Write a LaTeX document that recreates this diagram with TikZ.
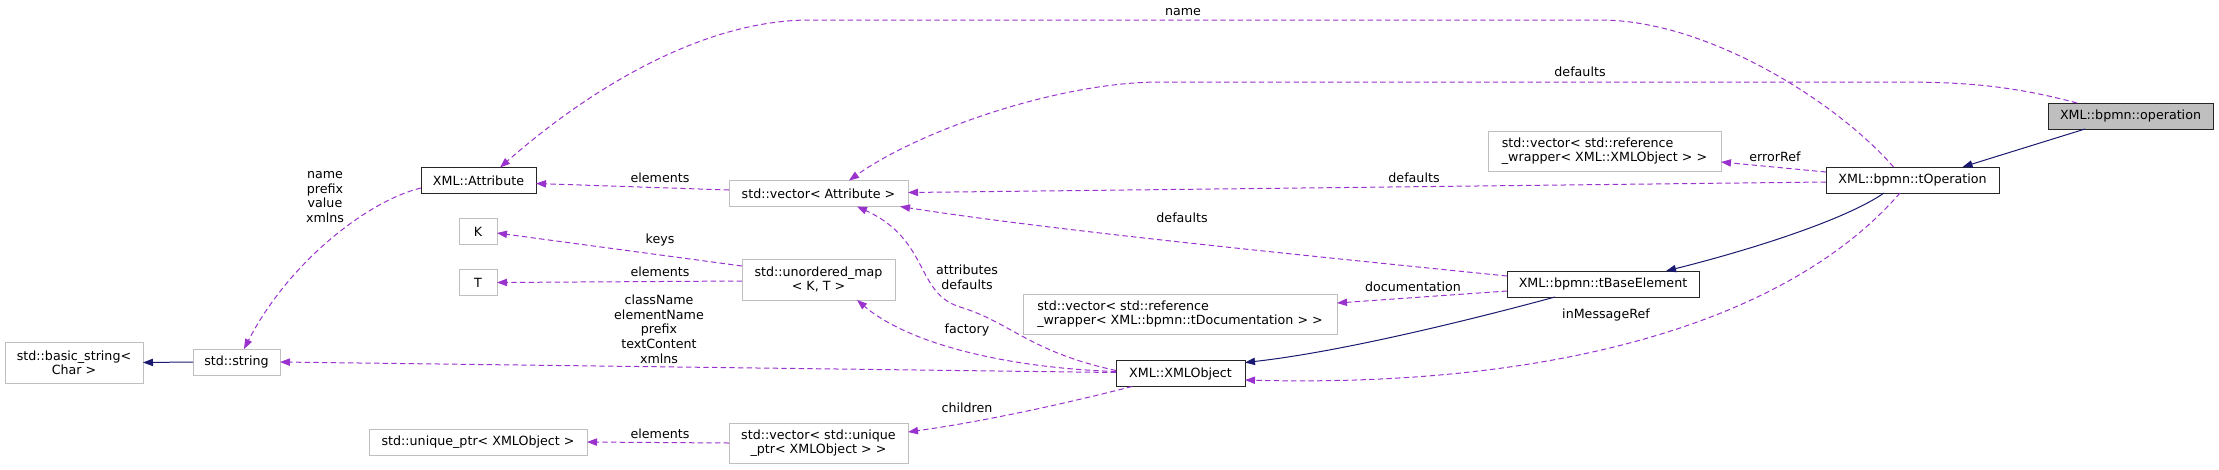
\documentclass[tikz,border=0pt]{standalone}
\usepackage{fontspec}
\setmainfont{DejaVu Sans}
\usepackage{tikz}
\usetikzlibrary{arrows.meta,calc}
\definecolor{edgepurple}{RGB}{154,50,205}
\definecolor{edgenavy}{RGB}{25,25,112}
\definecolor{boxgrey}{RGB}{191,191,191}
\tikzset{
  box/.style={draw, line width=0.75pt, inner sep=1pt, outer sep=0pt, minimum height=19.5pt,
              align=center, font=\fontsize{9.5}{10.5}\selectfont},
  clsbox/.style={box, draw=black!85},
  extbox/.style={box, draw=boxgrey},
  mainbox/.style={box, draw=black!85, fill=boxgrey},
  inherit/.style={-{Triangle[length=7.5pt,width=5.5pt]}, line width=0.75pt, edgenavy},
  usage/.style={-{Triangle[length=7.5pt,width=5.5pt]}, line width=0.75pt, edgepurple,
                dash pattern=on 4pt off 2.5pt},
  lbl/.style={align=center, inner sep=0pt, text=black, font=\fontsize{9.5}{11}\selectfont},
}

\begin{document}
\begin{tikzpicture}[x=0.75pt, y=-0.75pt]
  \useasboundingbox (0,0) rectangle (2219,469);
  % classes of the model
  \node[mainbox, minimum width=123.75pt]             (op)      at (2130.5,116) {XML::bpmn::operation};
  \node[clsbox, minimum width=129.75pt]              (tOp)     at (1912.5,180) {XML::bpmn::tOperation};
  \node[clsbox, minimum width=144pt]                 (tBase)   at (1603,284)   {XML::bpmn::tBaseElement};
  \node[clsbox, minimum width=96.75pt]               (xmlobj)  at (1180.5,373.5) {XML::XMLObject};
  \node[clsbox, minimum width=86.25pt]               (attr)    at (478.5,180.5) {XML::Attribute};
  % containers and library types
  \node[extbox, minimum width=174.75pt, minimum height=30pt, align=left] (errvec) at (1604.5,151)
       {std::vector< std::reference\\\_wrapper< XML::XMLObject > >};
  \node[extbox, minimum width=235.5pt, minimum height=30pt, align=left]  (docvec) at (1180,314)
       {std::vector< std::reference\\\_wrapper< XML::bpmn::tDocumentation > >};
  \node[extbox, minimum width=134.25pt]              (attrvec) at (818.5,193.5) {std::vector< Attribute >};
  \node[extbox, minimum width=114.75pt, minimum height=30.75pt] (umap) at (818.5,279.5)
       {std::unordered\_map\\< K, T >};
  \node[extbox, minimum width=134.25pt, minimum height=30pt] (uptrvec) at (818.5,443)
       {std::vector< std::unique\\\_ptr< XMLObject > >};
  \node[extbox, minimum width=28.5pt]                (K)       at (478,231.5)  {K};
  \node[extbox, minimum width=28.5pt]                (T)       at (478,282.5)  {T};
  \node[extbox, minimum width=163.5pt]               (uptr)    at (478,442)    {std::unique\_ptr< XMLObject >};
  \node[extbox, minimum width=65.25pt]               (str)     at (236.5,362)  {std::string};
  \node[extbox, minimum width=103.5pt, minimum height=30.75pt] (bstr) at (74,362.5)
       {std::basic\_string<\\Char >};

  % inheritance
  \draw[inherit] ($(op.south)+(-45.5,0)$) -- ($(tOp.north)+(50,0)$);
  \draw[inherit] ($(tOp.south)+(-28.5,0)$) .. controls (1845,220) and (1750,250) .. ($(tBase.north)+(63,0)$);
  \draw[inherit] ($(tBase.south)+(-48,0)$) .. controls (1470,320) and (1340,352) .. ($(xmlobj.east)+(0,-11)$);
  \draw[inherit] (str.west) -- (bstr.east);

  % usage
  \draw[usage] ($(op.north)+(-53.5,0)$) .. controls (2010,85) and (1960,82) .. (1900,82) -- (1160,82)
       .. controls (1060,82) and (920,130) .. ($(attrvec.north)+(30.5,0)$)
       node[lbl] at (1580,72) {defaults};
  \draw[usage] ($(tOp.north)+(-19,0)$) .. controls (1840,105) and (1710,20) .. (1600,20) -- (810,20)
       .. controls (710,20) and (600,80) .. ($(attr.north)+(21.5,0)$)
       node[lbl] at (1183,12) {name};
  \draw[usage] ($(tOp.west)+(0,-8)$) -- ($(errvec.east)+(0,11)$)
       node[lbl] at (1775,157) {errorRef};
  \draw[usage] ($(tOp.west)+(0,2)$) -- ($(attrvec.east)+(0,-1)$)
       node[lbl] at (1414,178) {defaults};
  \draw[usage] ($(tOp.south)+(-12.5,0)$) .. controls (1790,320) and (1560,388) .. ($(xmlobj.east)+(0,6.5)$)
       node[lbl] at (1606,315) {inMessageRef};
  \draw[usage] ($(tBase.west)+(0,-8)$) .. controls (1300,255) and (1050,230) .. ($(attrvec.south east)+(-8,0)$)
       node[lbl] at (1182,218) {defaults};
  \draw[usage] ($(tBase.west)+(0,7)$) -- ($(docvec.east)+(0,-11)$)
       node[lbl] at (1413,287) {documentation};
  \draw[usage] ($(xmlobj.west)+(0,-3)$) .. controls (1030,352) and (1010,322) .. (960,307)
       .. controls (915,293) and (930,240) .. ($(attrvec.south)+(38.5,0)$)
       node[lbl] at (967,277) {attributes\\defaults};
  \draw[usage] ($(xmlobj.west)+(0,-2)$) .. controls (1010,368) and (910,345) .. ($(umap.south)+(38.5,0)$)
       node[lbl] at (967,330) {factory};
  \draw[usage] ($(xmlobj.south west)+(16,0)$) .. controls (1060,405) and (980,422) .. ($(uptrvec.east)+(0,-11)$)
       node[lbl] at (967,408) {children};
  \draw[usage] ($(xmlobj.west)+(0,-1)$) -- (str.east)
       node[lbl] at (659,329) {className\\elementName\\prefix\\textContent\\xmlns};
  \draw[usage] ($(attr.west)+(0,7.5)$) .. controls (370,200) and (290,260) .. ($(str.north)+(7.5,0)$)
       node[lbl] at (325,197) {name\\prefix\\value\\xmlns};
  \draw[usage] ($(attrvec.west)+(0,-3.5)$) -- ($(attr.east)+(0,3)$)
       node[lbl] at (660,178) {elements};
  \draw[usage] ($(umap.west)+(0,-13.5)$) -- ($(K.east)+(0,1.5)$)
       node[lbl] at (660,240) {keys};
  \draw[usage] ($(umap.west)+(0,1.5)$) -- (T.east)
       node[lbl] at (660,272) {elements};
  \draw[usage] (uptrvec.west) -- (uptr.east)
       node[lbl] at (660,434) {elements};
\end{tikzpicture}
\end{document}
